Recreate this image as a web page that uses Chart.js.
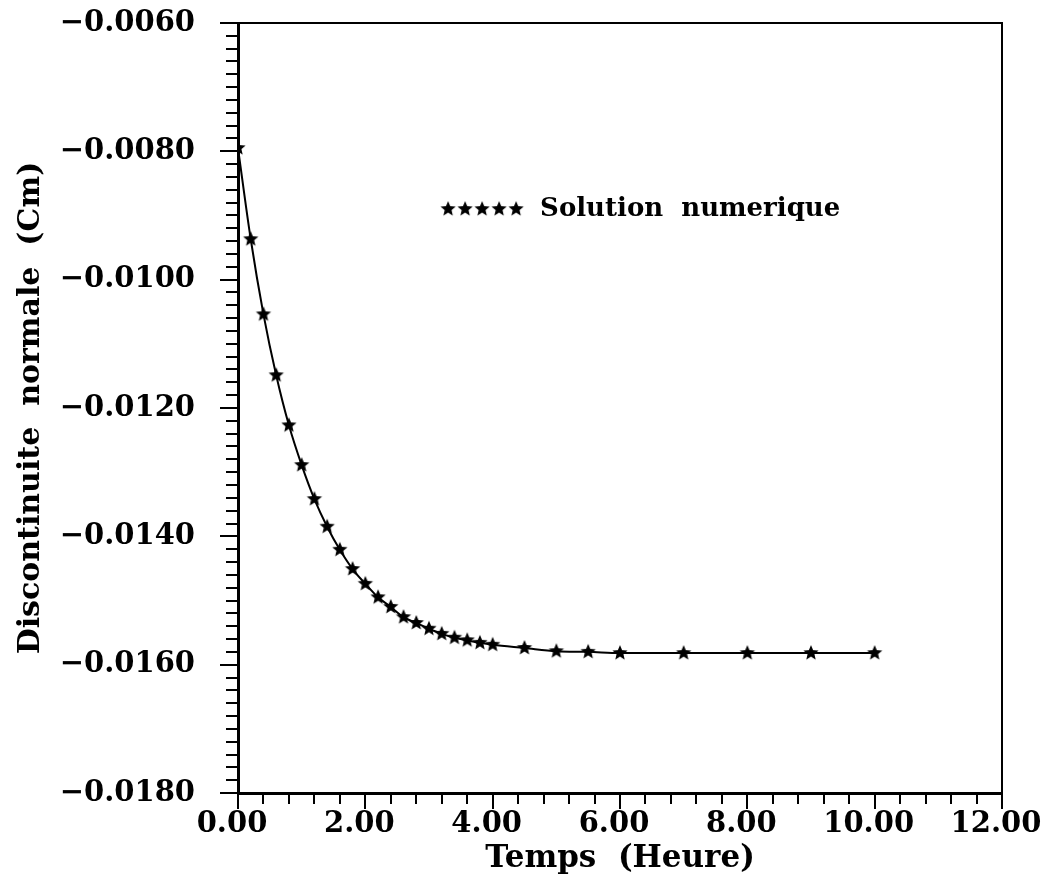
<!DOCTYPE html>
<html>
<head>
<meta charset="utf-8">
<script src="https://cdn.jsdelivr.net/npm/chart.js@4.4.0/dist/chart.umd.min.js"></script>
<style>
  html, body { margin: 0; padding: 0; background: #fff; }
  #wrap { width: 1059px; height: 882px; }
</style>
</head>
<body>
<div id="wrap"><canvas id="canvas_disc"></canvas></div>
<script>
// temps (heure) et discontinuite normale (cm)
var temps = [0, 0.2, 0.4, 0.6, 0.8, 1.0, 1.2, 1.4, 1.6, 1.8, 2.0, 2.2, 2.4, 2.6, 2.8, 3.0,
             3.2, 3.4, 3.6, 3.8, 4.0, 4.5, 5.0, 5.5, 6.0, 7.0, 8.0, 9.0, 10.0];
var discontinuite = [-0.00795, -0.00937, -0.01054, -0.01149, -0.01227, -0.01289, -0.01342,
                     -0.01385, -0.01421, -0.01451, -0.01474, -0.01495, -0.01510, -0.01526,
                     -0.01535, -0.01544, -0.01552, -0.01558, -0.01562, -0.01566, -0.01569,
                     -0.01574, -0.01579, -0.01580, -0.01582, -0.01582, -0.01582, -0.01582, -0.01582];
var xTicks = [0, 2, 4, 6, 8, 10, 12];
var yTicks = [-0.018, -0.016, -0.014, -0.012, -0.010, -0.008, -0.006];
var legendLabel = 'Solution  numerique';

var serif = '"DejaVu Serif", "Liberation Serif", serif';

// filled star used as point marker
function makeStar(r) {
  var c = document.createElement('canvas');
  c.width = c.height = 2 * r + 2;
  var g = c.getContext('2d');
  g.beginPath();
  for (var i = 0; i < 10; i++) {
    var a = -Math.PI / 2 + i * Math.PI / 5;
    var rr = (i % 2 === 0) ? r : r * 0.45;
    g.lineTo(r + 1 + rr * Math.cos(a), r + 1 + rr * Math.sin(a));
  }
  g.closePath();
  g.fillStyle = '#000';
  g.fill();
  return c;
}
var star = makeStar(8);
var smallStar = makeStar(8);

var points = temps.map(function (t, i) { return { x: t, y: discontinuite[i] }; });

// box round the plot + major / minor tick marks pointing outward
var axisTicks = {
  id: 'axisTicks',
  afterDraw: function (chart) {
    var ctx = chart.ctx, a = chart.chartArea;
    var xs = chart.scales.x, ys = chart.scales.y;
    ctx.save();
    ctx.strokeStyle = '#000';
    ctx.lineWidth = 2;
    ctx.strokeRect(a.left, a.top, a.right - a.left, a.bottom - a.top);
    ctx.beginPath();
    for (var k = 0; k <= 60; k++) {
      var vy = ys.min + k * 0.0002;
      var py = Math.round(ys.getPixelForValue(vy));
      var len = (k % 10 === 0) ? 18 : 12;
      ctx.moveTo(a.left - len, py);
      ctx.lineTo(a.left, py);
    }
    for (var j = 0; j <= 30; j++) {
      var vx = xs.min + j * 0.4;
      var px = Math.round(xs.getPixelForValue(vx));
      var l2 = (j % 5 === 0) ? 16 : 11;
      ctx.moveTo(px, a.bottom);
      ctx.lineTo(px, a.bottom + l2);
    }
    ctx.stroke();
    ctx.restore();
  }
};

// legend drawn inside the plot
var innerLegend = {
  id: 'innerLegend',
  afterDraw: function (chart, args, opts) {
    var ctx = chart.ctx;
    var x0 = chart.scales.x.getPixelForValue(opts.x);
    var y0 = chart.scales.y.getPixelForValue(opts.y);
    ctx.save();
    for (var i = 0; i < 5; i++) {
      ctx.drawImage(smallStar, x0 + i * 17 - smallStar.width / 2, y0 - smallStar.height / 2);
    }
    ctx.fillStyle = '#000';
    ctx.font = 'bold 26px ' + serif;
    ctx.textBaseline = 'middle';
    ctx.fillText(opts.text, x0 + 92, y0);
    ctx.restore();
  }
};

var ctx = document.getElementById('canvas_disc');
var chart = new Chart(ctx, {
  type: 'line',
  data: {
    datasets: [{
      label: legendLabel,
      data: points,
      borderColor: '#000',
      borderWidth: 2,
      fill: false,
      cubicInterpolationMode: 'monotone',
      pointStyle: star,
      pointRadius: 8
    }]
  },
  options: {
    responsive: true,
    maintainAspectRatio: false,
    animation: false,
    layout: { padding: { top: 23, right: 57, left: 0, bottom: 0 } },
    plugins: {
      legend: { display: false },
      tooltip: { enabled: false },
      innerLegend: { x: 3.3, y: -0.0089, text: legendLabel }
    },
    scales: {
      x: {
        type: 'linear',
        min: 0,
        max: 12,
        afterBuildTicks: function (s) { s.ticks = xTicks.map(function (v) { return { value: v }; }); },
        afterFit: function (s) { s.height = 89; s.paddingLeft = 0; s.paddingRight = 0; },
        grid: { display: false, drawTicks: false },
        border: { display: true, color: '#000', width: 3 },
        ticks: {
          color: '#000',
          font: { family: serif, size: 29, weight: 'bold' },
          padding: 14,
          labelOffset: -6,
          maxRotation: 0,
          callback: function (v) { return v.toFixed(2); }
        },
        title: {
          display: true,
          text: 'Temps  (Heure)',
          color: '#000',
          font: { family: serif, size: 31, weight: 'bold' },
          padding: { top: 0, bottom: 4 }
        }
      },
      y: {
        type: 'linear',
        min: -0.018,
        max: -0.006,
        afterBuildTicks: function (s) { s.ticks = yTicks.map(function (v) { return { value: v }; }); },
        afterFit: function (s) { s.width = 238; s.paddingTop = 0; s.paddingBottom = 0; },
        grid: { display: false, drawTicks: false },
        border: { display: true, color: '#000', width: 3 },
        ticks: {
          color: '#000',
          font: { family: serif, size: 29, weight: 'bold' },
          padding: 43,
          callback: function (v) { return '\u2212' + Math.abs(v).toFixed(4); }
        },
        title: {
          display: true,
          text: 'Discontinuite  normale  (Cm)',
          color: '#000',
          font: { family: serif, size: 30, weight: 'bold' },
          padding: { top: 13, bottom: 0 }
        }
      }
    }
  },
  plugins: [axisTicks, innerLegend]
});
</script>
</body>
</html>
